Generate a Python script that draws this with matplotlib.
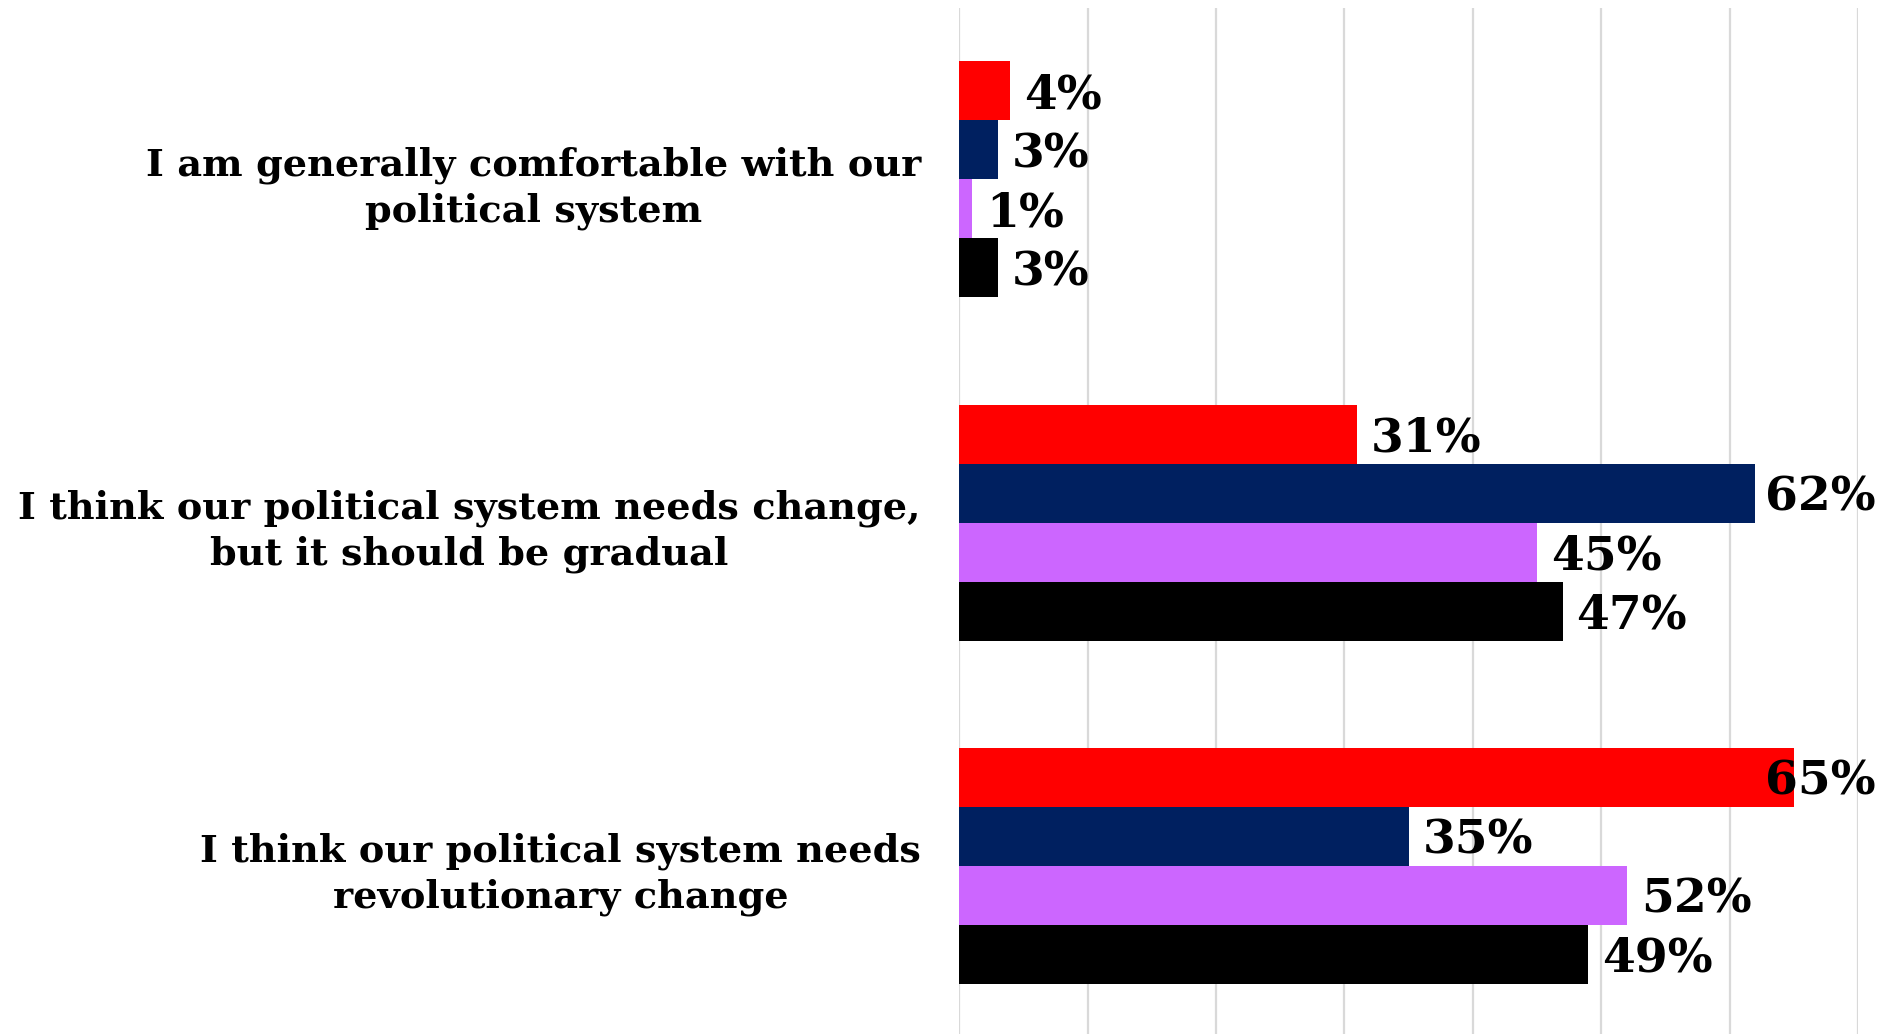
import matplotlib.pyplot as plt
import numpy as np

# categories (top to bottom) and series values in percent
categories = [
    "I am generally comfortable with our\npolitical system",
    "I think our political system needs change,\nbut it should be gradual",
    "I think our political system needs\nrevolutionary change",
]
red_vals = [4, 31, 65]
navy_vals = [3, 62, 35]
violet_vals = [1, 45, 52]
black_vals = [3, 47, 49]

series = [red_vals, navy_vals, violet_vals, black_vals]
colors = ['#ff0000', '#002060', '#cc66ff', '#000000']

plt.rcParams['font.family'] = ['DejaVu Serif']
plt.rcParams['font.weight'] = 'bold'

fig = plt.figure(figsize=(18.78, 10.34), dpi=100)
ax = fig.add_axes([0.5107, -0.003, 0.4787, 0.9953])

y = np.arange(len(categories))
h = 0.172
for i, (vals, c) in enumerate(zip(series, colors)):
    ax.barh(y + (i - 1.5) * h, vals, height=h, color=c, zorder=3)

ax.set_xlim(0, 70)
ax.set_ylim(2.5, -0.5)
ax.set_xticks(np.arange(0, 71, 10))
ax.tick_params(axis='x', bottom=False, labelbottom=False)
ax.tick_params(axis='y', left=False, pad=24)
ax.set_yticks(y)
ax.set_yticklabels(categories, fontsize=27.5, fontweight='bold',
                   multialignment='center', linespacing=1.3)
ax.grid(axis='x', color='#d9d9d9', linewidth=1.6, zorder=0)
for s in ax.spines.values():
    s.set_visible(False)

# value labels, kept inside the figure like the original
fig.canvas.draw()
renderer = fig.canvas.get_renderer()
fig_w = fig.bbox.width
for i, vals in enumerate(series):
    for j, v in enumerate(vals):
        t = ax.annotate(f'{v}%', (v, j + (i - 1.5) * h), xytext=(10, -3),
                        textcoords='offset points', ha='left', va='center',
                        fontsize=34, fontweight='bold', zorder=4)
        bb = t.get_window_extent(renderer)
        if bb.x1 > fig_w - 2:
            shift = (bb.x1 - (fig_w - 2)) * 72 / fig.dpi
            t.set_position((10 - shift, -3))

fig.savefig('out.png', dpi=100)
